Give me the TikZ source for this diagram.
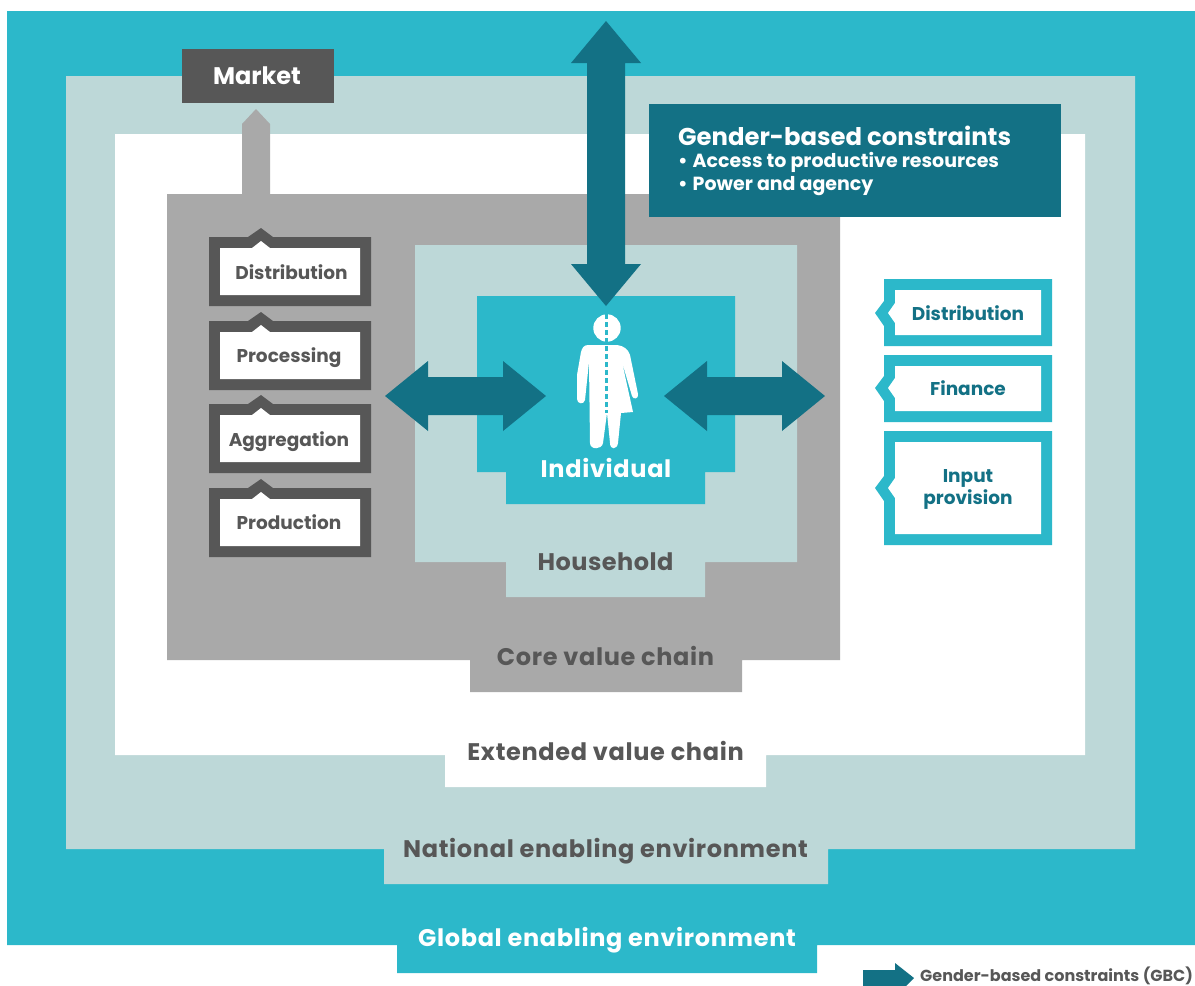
\documentclass[tikz,border=0pt]{standalone}
\usepackage{fontspec}
\setmainfont{Poppins}
\definecolor{seablue}{HTML}{2CB8CA}
\definecolor{palesage}{HTML}{BDD8D8}
\definecolor{midgrey}{HTML}{A9A9A9}
\definecolor{darkgrey}{HTML}{575757}
\definecolor{deepteal}{HTML}{137185}
\tikzset{
	label24/.style={font=\bfseries\fontsize{24}{26}\selectfont, inner sep=0pt},
	levellabel/.style={font=\bfseries\fontsize{24}{26}\selectfont\addfontfeature{LetterSpace=2.8}, inner sep=0pt},
	label19/.style={font=\bfseries\fontsize{19}{22}\selectfont, inner sep=0pt},
	label18/.style={font=\bfseries\fontsize{18.5}{22}\selectfont, inner sep=0pt, align=center}
}
\def\tabbedrect[#1](#2,#3)(#4,#5)(#6,#7:#8){\fill[#1] (#2,#3) -- (#4,#3) -- (#4,#5) -- (#7,#5) -- (#7,#8) -- (#6,#8) -- (#6,#5) -- (#2,#5) -- cycle;}
\def\chainbox(#1){%
	\fill[darkgrey] (209,#1) -- (248,#1) -- (261,#1-9) -- (273,#1) -- (371,#1) -- (371,#1+69) -- (209,#1+69) -- cycle;
	\fill[white] (220,#1+11) -- (252,#1+11) -- (261,#1+4) -- (270,#1+11) -- (360,#1+11) -- (360,#1+58) -- (220,#1+58) -- cycle;}
\def\supportbox(#1:#2:#3){%
	\fill[seablue] (884,#1) -- (1052,#1) -- (1052,#2) -- (884,#2) -- (884,#3+13) -- (875,#3) -- (884,#3-12) -- cycle;
	\fill[white] (895,#1+11) -- (1041,#1+11) -- (1041,#2-11) -- (895,#2-11) -- (895,#3+10) -- (888,#3) -- (895,#3-10) -- cycle;}

\begin{document}
\begin{tikzpicture}[x=1pt, y=-1pt]
			%%%%% START %%%%%
			\useasboundingbox (0, 0) rectangle (1195, 986);
			
			\tabbedrect[seablue](7,11)(1195,945)(397,817:973);
			\tabbedrect[palesage](66,76)(1135,849)(384,828:884);
			\tabbedrect[white](115,134)(1085,755)(445,766:787);
			\tabbedrect[midgrey](167,194)(840,660)(470,742:692);
			\tabbedrect[palesage](415,245)(797,562)(506,705:597);
			\tabbedrect[seablue](477,296)(735,472)(506,705:504);
			
			% market
			\fill[midgrey] (242, 194) -- (242, 124) -- (256, 109) -- (270, 124) -- (270, 194) -- cycle;
			\fill[darkgrey] (182, 49) rectangle (334, 103);
			\node[label24, text=white] (market) at (257, 76) {Market};
			
			% constraints box
			\fill[deepteal] (649, 104) rectangle (1061, 217);
			\node[label24, text=white, anchor=west, font=\bfseries\fontsize{24.3}{26}\selectfont] (gbctitle) at (678, 135.5) {Gender-based constraints};
			\node[label19, text=white, anchor=west] (gbcaccess) at (678, 162.5) {•\hspace{1pt} Access to productive resources};
			\node[label19, text=white, anchor=west] (gbcpower) at (678, 186.5) {•\hspace{1pt} Power and agency};
			
			% arrows
			\fill[deepteal] (606, 21) -- (641, 63) -- (625, 63) -- (625, 264) -- (641, 264) -- (606, 306) -- (571, 264) -- (587, 264) -- (587, 63) -- (571, 63) -- cycle;
			\fill[deepteal] (385, 396) -- (428, 361) -- (428, 377) -- (503, 377) -- (503, 361) -- (546, 396) -- (503, 431) -- (503, 415) -- (428, 415) -- (428, 431) -- cycle;
			\fill[deepteal] (664, 396) -- (707, 361) -- (707, 377) -- (782, 377) -- (782, 361) -- (825, 396) -- (782, 431) -- (782, 415) -- (707, 415) -- (707, 431) -- cycle;
			
			% person
			\fill[white] (607, 328) circle (13.7);
			\fill[white] (588, 345) -- (617, 345) .. controls (624, 346) and (628, 349) .. (630, 355) -- (638, 394) .. controls (639, 399) and (633, 400) .. (632, 396) -- (622, 362) -- (633, 412) -- (621, 413) -- (618, 443) .. controls (617, 450) and (610, 450) .. (610, 443) -- (607, 413) -- (603, 443) .. controls (602, 450) and (590, 450) .. (590, 443) -- (589, 362) -- (585, 400) .. controls (584, 405) and (577, 404) .. (577, 399) -- (577, 375) -- (581, 352) .. controls (582, 348) and (584, 345) .. (588, 345) -- cycle;
			\draw[seablue, line width=2.4pt, dash pattern=on 5pt off 3pt] (606.5, 314) -- (606.5, 413);
			
			% core chain
			\chainbox(237);
			\chainbox(321);
			\chainbox(404);
			\chainbox(488);
			\node[label18, text=darkgrey] (distcore) at (291.5, 272) {Distribution};
			\node[label18, text=darkgrey] (proccore) at (289, 358) {Processing};
			\node[label18, text=darkgrey] (aggrcore) at (289, 442) {Aggregation};
			\node[label18, text=darkgrey] (prodcore) at (289, 522) {Production};
			
			% supporters
			\supportbox(279:346:313);
			\supportbox(355:422:388);
			\supportbox(431:545:488);
			\node[label18, text=deepteal] (distext) at (968, 313) {Distribution};
			\node[label18, text=deepteal] (finext) at (968, 388) {Finance};
			\node[label18, text=deepteal] (inputext) at (968, 489) {Input\\provision};
			
			% levels
			\node[levellabel, text=white] (individual) at (606, 468) {Individual};
			\node[levellabel, text=darkgrey, font=\bfseries\fontsize{24}{26}\selectfont\addfontfeature{LetterSpace=2}] (household) at (605.5, 562) {Household};
			\node[levellabel, text=darkgrey] (corechain) at (605.5, 656) {Core value chain};
			\node[levellabel, text=darkgrey] (extchain) at (605.5, 751) {Extended value chain};
			\node[levellabel, text=darkgrey] (national) at (605.5, 851) {National enabling environment};
			\node[levellabel, text=white] (global) at (607, 940) {Global enabling environment};
			
			% legend
			\fill[deepteal] (863, 970) -- (895, 970) -- (895, 963) -- (914, 978) -- (906, 986) -- (863, 986) -- cycle;
			\node[font=\bfseries\fontsize{16}{18}\selectfont, text=darkgrey, inner sep=0pt, anchor=west] (legend) at (920, 976) {Gender-based constraints (GBC)};
			
			%%%%% END %%%%%
\end{tikzpicture}
\end{document}
